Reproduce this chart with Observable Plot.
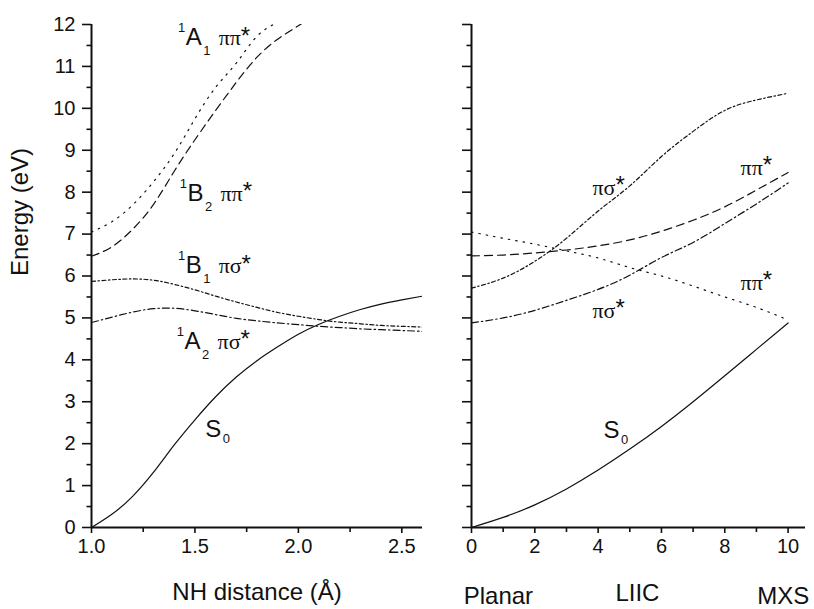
<!DOCTYPE html>
<html>
<head>
<meta charset="utf-8">
<script src="https://cdn.jsdelivr.net/npm/d3@7"></script>
<script src="https://cdn.jsdelivr.net/npm/@observablehq/plot@0.6"></script>
<style>
  html, body { margin: 0; padding: 0; background: #fff; }
  #chart { display: flex; width: 814px; height: 609px; overflow: hidden; }
  #chart svg { overflow: visible; }
</style>
</head>
<body>
<div id="chart"></div>
<script>
// ---------- Left panel: NH stretching ----------
const nhDistance = [1.0, 1.1, 1.2, 1.3, 1.4, 1.5, 1.6, 1.7, 1.8, 1.9, 2.0, 2.1, 2.2, 2.3, 2.4, 2.5, 2.6];
const nhS0  = [0, 0.32, 0.75, 1.32, 1.97, 2.57, 3.12, 3.59, 3.98, 4.31, 4.61, 4.85, 5.04, 5.2, 5.33, 5.43, 5.52];
const nhA2  = [4.89, 5.02, 5.14, 5.22, 5.23, 5.17, 5.08, 4.99, 4.93, 4.88, 4.84, 4.8, 4.77, 4.74, 4.72, 4.7, 4.68];
const nhB1  = [5.87, 5.91, 5.93, 5.9, 5.8, 5.67, 5.52, 5.38, 5.25, 5.13, 5.04, 4.96, 4.9, 4.86, 4.82, 4.8, 4.78];
const nhA1  = [7.05, 7.3, 7.7, 8.25, 8.92, 9.75, 10.5, 11.08, 11.72, 12.05];
const nhB2  = [6.47, 6.7, 7.12, 7.71, 8.5, 9.25, 9.95, 10.62, 11.22, 11.65, 11.97, 12.3];

// ---------- Right panel: LIIC ----------
const liic = [0, 1, 2, 3, 4, 5, 6, 7, 8, 9, 10];
const liicS0           = [0, 0.24, 0.54, 0.92, 1.37, 1.87, 2.41, 3.0, 3.62, 4.25, 4.88];
const liicPiSigmaUpper = [5.71, 5.95, 6.35, 6.9, 7.55, 8.15, 8.85, 9.45, 9.95, 10.2, 10.36];
const liicPiPiDashed   = [6.48, 6.5, 6.55, 6.62, 6.72, 6.86, 7.07, 7.33, 7.65, 8.05, 8.47];
const liicPiSigmaLower = [4.88, 5.0, 5.18, 5.42, 5.68, 6.02, 6.44, 6.8, 7.25, 7.72, 8.22];
const liicPiPiDotted   = [7.05, 6.9, 6.76, 6.6, 6.43, 6.2, 6.0, 5.76, 5.5, 5.25, 4.95];

// ---------- Ticks ----------
const energyTicks = [0, 1, 2, 3, 4, 5, 6, 7, 8, 9, 10, 11, 12];
const energyMinorTicks = [0.5, 1.5, 2.5, 3.5, 4.5, 5.5, 6.5, 7.5, 8.5, 9.5, 10.5, 11.5];
const nhTicks = [1.0, 1.5, 2.0, 2.5];
const nhMinorTicks = [1.25, 1.75, 2.25];
const liicTicks = [0, 2, 4, 6, 8, 10];
const liicMinorTicks = [1, 3, 5, 7, 9];

// ---------- Labels (data coordinates) ----------
const stateLabels = [
  {x: 1.455, y: 11.5, sup: "1", main: "A", sub: "1", orb: "ππ*"},
  {x: 1.464, y: 7.8,  sup: "1", main: "B", sub: "2", orb: "ππ*"},
  {x: 1.455, y: 6.06, sup: "1", main: "B", sub: "1", orb: "πσ*"},
  {x: 1.45,  y: 4.25, sup: "1", main: "A", sub: "2", orb: "πσ*"}
];
const nhGroundLabel = [{x: 1.55, y: 2.15, main: "S", sub: "0"}];
const liicGroundLabel = [{x: 4.17, y: 2.13, main: "S", sub: "0"}];
const liicOrbLabels = [
  {x: 3.82, y: 7.93, orb: "πσ*"},
  {x: 8.5,  y: 8.41, orb: "ππ*"},
  {x: 8.5,  y: 5.67, orb: "ππ*"},
  {x: 3.82, y: 5.0,  orb: "πσ*"}
];
const liicPoints = [{x: 0.85, t: "Planar"}, {x: 9.85, t: "MXS"}];
const liicMid = [{x: 5.24, t: "LIIC"}];

// ---------- Styles ----------
const SANS = "'Liberation Sans', Arial, Helvetica, sans-serif";
const SERIF = "'Liberation Serif', 'Times New Roman', serif";
const dashes = {
  solid: undefined,
  dotted: "1.5,6",
  dashed: "8,5",
  dashDot: "7,3,1.5,3",
  shortDashDot: "4,2.5,1.5,2.5"
};

function rows(xs, ys) { return ys.map((v, i) => ({x: xs[i], y: v})); }
function curve(xs, ys, style) {
  const o = {x: "x", y: "y", curve: "natural", stroke: "#111", strokeWidth: 1.2, clip: true};
  if (dashes[style]) o.strokeDasharray = dashes[style];
  return Plot.line(rows(xs, ys), o);
}
function orbMark(data, extra) {
  return Plot.text(data, {x: "x", y: "y", text: "orb", fontSize: 22, fontFamily: SERIF, textAnchor: "start",
    lineAnchor: "middle", dy: -0.32 * 22, fill: "#111", className: "orb", ...extra});
}
function stateLabelMarks(data, subDrop) {
  const base = {x: "x", y: "y", lineAnchor: "middle", fill: "#111", fontFamily: SANS};
  const marks = [
    Plot.text(data, {...base, text: "main", fontSize: 24, textAnchor: "start", dy: -0.32 * 24}),
    Plot.text(data, {...base, text: "sub", fontSize: 13, textAnchor: "start", dx: 17.5, dy: subDrop - 0.32 * 13})
  ];
  if (data.some(d => d.sup)) {
    marks.push(Plot.text(data, {...base, text: "sup", fontSize: 13, textAnchor: "end", dx: -0.5, dy: -13 - 0.32 * 13}));
  }
  if (data.some(d => d.orb)) marks.push(orbMark(data, {dx: 33}));
  return marks;
}
function axisMarks(xMajor, xMinor, xFormat, yLabels) {
  return [
    Plot.axisY(energyTicks, {tickSize: 9, tickPadding: 7, fontSize: 20, strokeWidth: 1.6, label: null,
      tickFormat: yLabels ? (d => String(d)) : (() => "")}),
    Plot.axisY(energyMinorTicks, {tickSize: 4.5, strokeWidth: 1.6, label: null, tickFormat: () => ""}),
    Plot.axisX(xMajor, {tickSize: 6, tickPadding: 5, fontSize: 20, strokeWidth: 1.6, label: null, tickFormat: xFormat}),
    Plot.axisX(xMinor, {tickSize: 5, strokeWidth: 1.6, label: null, tickFormat: () => ""})
  ];
}
// Raise the asterisk like the original's superscript star
function styleStars(svg) {
  d3.select(svg).selectAll("g.orb text").each(function () {
    const s = this.textContent;
    if (!s.endsWith("*")) return;
    const t = d3.select(this);
    t.text(s.slice(0, -1));
    t.append("tspan").attr("font-family", SANS).attr("font-size", 24).attr("dy", "-0.08em").text("*");
  });
}

const left = Plot.plot({
  width: 440, height: 609,
  marginLeft: 91, marginRight: 18, marginTop: 24, marginBottom: 82,
  x: {domain: [1, 2.6]},
  y: {domain: [0, 12]},
  style: {fontFamily: SANS, background: "#fff", color: "#111"},
  marks: [
    curve(nhDistance, nhA1, "dotted"),
    curve(nhDistance, nhB2, "dashed"),
    curve(nhDistance, nhB1, "shortDashDot"),
    curve(nhDistance, nhA2, "dashDot"),
    curve(nhDistance, nhS0, "solid"),
    ...axisMarks(nhTicks, nhMinorTicks, d => d.toFixed(1), true),
    Plot.ruleX([1], {stroke: "#111", strokeWidth: 2}),
    Plot.ruleY([0], {stroke: "#111", strokeWidth: 2}),
    ...stateLabelMarks(stateLabels, 10),
    ...stateLabelMarks(nhGroundLabel, 6),
    Plot.text(["Energy (eV)"], {text: d => d, frameAnchor: "left", rotate: -90, dx: -71, fontSize: 24, lineAnchor: "middle", fill: "#111"}),
    Plot.text(["NH distance (Å)"], {text: d => d, frameAnchor: "bottom", dy: 65, fontSize: 24, lineAnchor: "middle", fill: "#111"})
  ]
});

const right = Plot.plot({
  width: 374, height: 609,
  marginLeft: 31, marginRight: 9, marginTop: 24, marginBottom: 82,
  x: {domain: [0, 10.55]},
  y: {domain: [0, 12]},
  style: {fontFamily: SANS, background: "#fff", color: "#111"},
  marks: [
    curve(liic, liicPiPiDotted, "dotted"),
    curve(liic, liicPiPiDashed, "dashed"),
    curve(liic, liicPiSigmaUpper, "shortDashDot"),
    curve(liic, liicPiSigmaLower, "dashDot"),
    curve(liic, liicS0, "solid"),
    ...axisMarks(liicTicks, liicMinorTicks, d => String(d), false),
    Plot.ruleX([0], {stroke: "#111", strokeWidth: 2}),
    Plot.ruleY([0], {stroke: "#111", strokeWidth: 2}),
    ...stateLabelMarks(liicGroundLabel, 6),
    orbMark(liicOrbLabels, {}),
    Plot.text(liicPoints, {x: "x", text: "t", frameAnchor: "bottom", dy: 69, fontSize: 24, lineAnchor: "middle", fill: "#111"}),
    Plot.text(liicMid, {x: "x", text: "t", frameAnchor: "bottom", dy: 66, fontSize: 24, lineAnchor: "middle", fill: "#111"})
  ]
});

styleStars(left);
styleStars(right);
document.getElementById("chart").append(left, right);
</script>
</body>
</html>
